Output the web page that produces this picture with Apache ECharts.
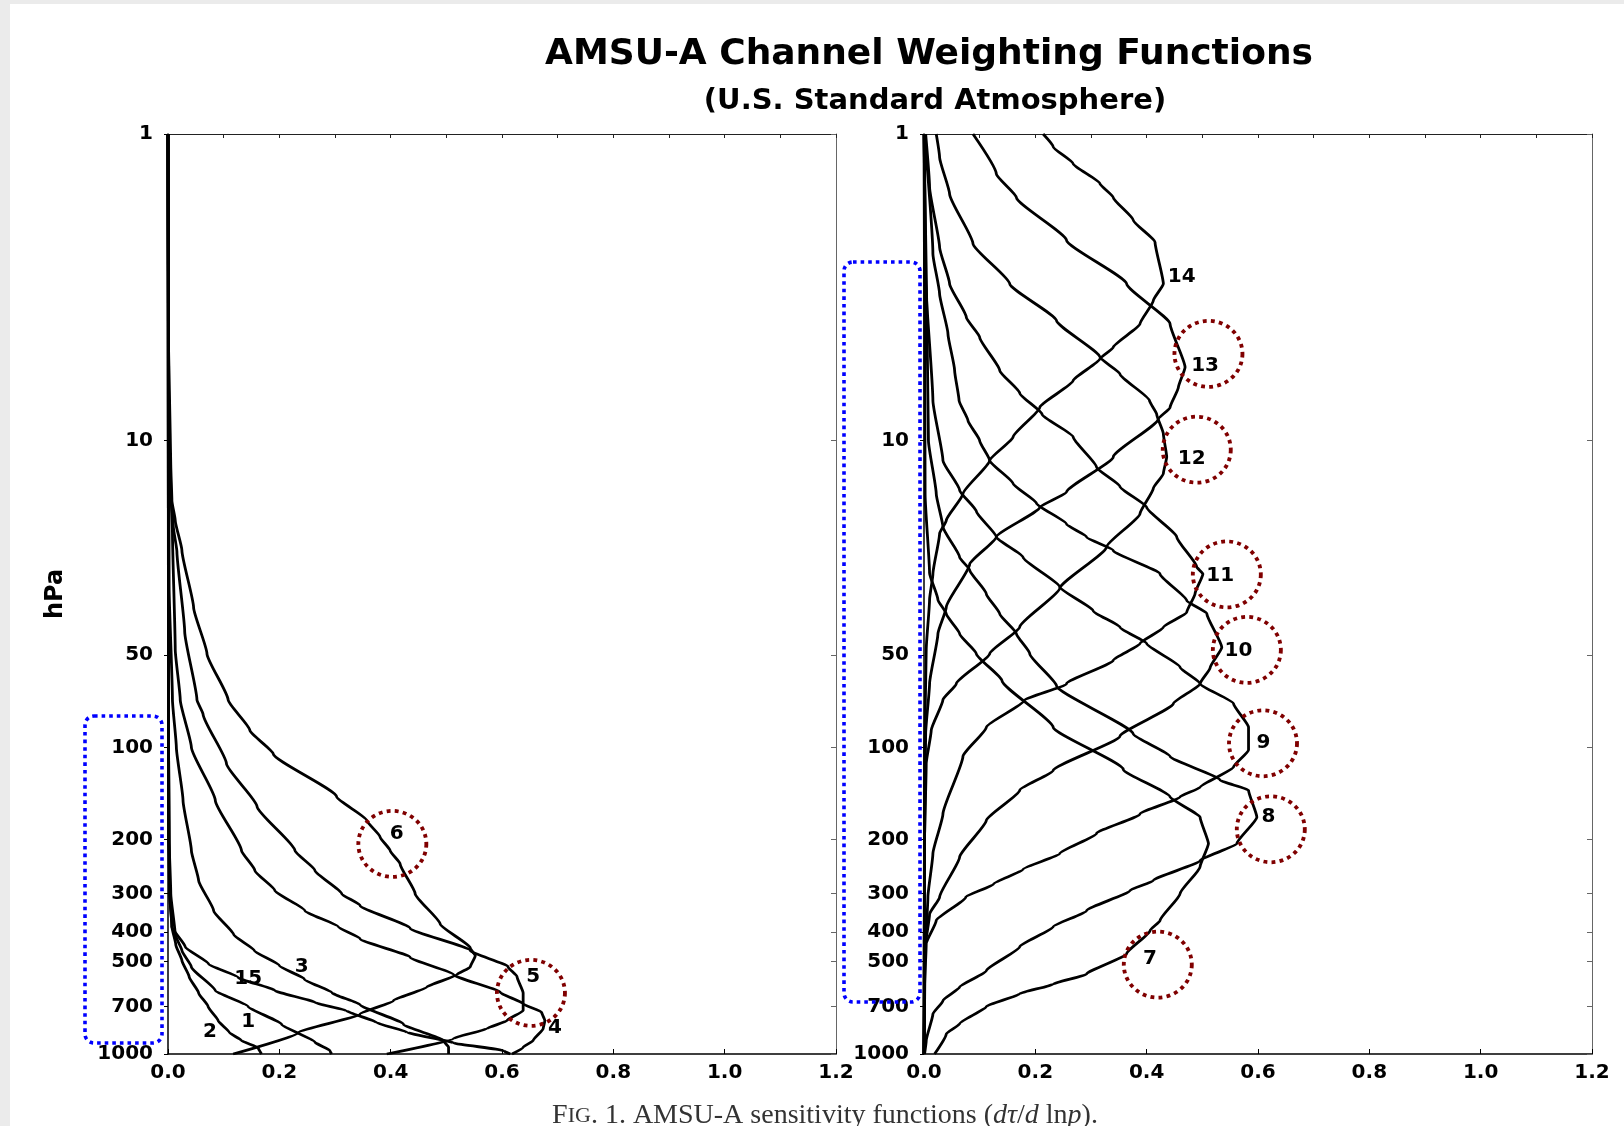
<!DOCTYPE html>
<html>
<head>
<meta charset="utf-8">
<script src="https://cdn.jsdelivr.net/npm/echarts@6.0.0/dist/echarts.min.js"></script>
<style>
html,body{margin:0;padding:0;background:#fff;}
#chart{width:1624px;height:1126px;}
</style>
</head>
<body>
<div id="chart"></div>
<script>
// ---------- DATA: [pressure hPa, dτ/d lnp] ----------
const pressureTicks = [1, 10, 50, 100, 200, 300, 400, 500, 700, 1000];

// Left panel channels
const ch1 = [[1,0],[100,0.001],[200,0.002],[300,0.005],[408,0.013],[460,0.025],[520,0.042],[621,0.085],[700,0.144],[800,0.204],[915,0.264],[975,0.291],[1000,0.294]];
const ch2 = [[1,0],[200,0.001],[300,0.003],[385,0.007],[440,0.014],[496,0.025],[560,0.038],[632,0.055],[700,0.072],[778,0.090],[850,0.110],[904,0.132],[955,0.162],[1000,0.168]];
const ch3 = [[1,0],[30,0.002],[70,0.008],[100,0.015],[149,0.027],[217,0.042],[272,0.055],[341,0.082],[408,0.118],[460,0.155],[515,0.200],[570,0.245],[632,0.295],[690,0.345],[800,0.423],[905,0.495],[950,0.504],[1000,0.504]];
const ch4 = [[1,0],[10,0.001],[20,0.008],[48,0.013],[70,0.022],[100,0.042],[149,0.085],[217,0.132],[252,0.156],[293,0.192],[341,0.246],[385,0.306],[421,0.345],[484,0.435],[551,0.513],[630,0.597],[686,0.638],[730,0.671],[778,0.677],[826,0.674],[904,0.656],[950,0.638],[1000,0.618]];
const ch5 = [[1,0],[8,0.001],[14,0.004],[19,0.0095],[23,0.016],[42,0.030],[70,0.052],[78,0.063],[113,0.105],[156,0.160],[217,0.228],[252,0.264],[300,0.312],[328,0.345],[389,0.435],[460,0.543],[520,0.611],[560,0.627],[632,0.638],[722,0.638],[778,0.609],[826,0.573],[890,0.513],[1000,0.393]];
const ch6 = [[1,0],[5,0.001],[9.5,0.004],[12,0.005],[15.7,0.007],[18.2,0.013],[22.8,0.025],[35,0.046],[49.5,0.070],[70,0.108],[88,0.147],[105,0.189],[145,0.303],[173,0.357],[196,0.381],[217,0.399],[240,0.417],[300,0.444],[377,0.489],[451,0.543],[478,0.552],[520,0.543],[551,0.519],[605,0.465],[670,0.405],[741,0.345],[852,0.234],[1000,0.117]];
const ch15 = [[1,0],[100,0.001],[300,0.003],[385,0.007],[447,0.031],[509,0.073],[563,0.126],[621,0.192],[679,0.264],[722,0.320],[790,0.375],[850,0.430],[920,0.513],[975,0.603],[1000,0.615]];

// Right panel channels
const ch7 = [[1,0],[15,0.002],[27,0.010],[33,0.025],[36.7,0.040],[42.6,0.064],[49.5,0.094],[60.6,0.140],[86,0.232],[118,0.358],[145,0.442],[169,0.496],[206,0.511],[245,0.496],[300,0.460],[367,0.424],[396,0.406],[471,0.364],[549,0.292],[592,0.232],[636,0.172],[700,0.112],[797,0.064],[860,0.040],[1000,0.019]];
const ch8 = [[1,0],[10,0.008],[14.9,0.022],[19.1,0.034],[24,0.064],[26.4,0.082],[31.6,0.112],[36.7,0.136],[42.6,0.166],[49.5,0.190],[63,0.238],[90.5,0.376],[107,0.442],[128,0.532],[138,0.583],[169,0.598],[206,0.562],[234,0.496],[272,0.412],[293,0.370],[341,0.292],[385,0.232],[447,0.172],[535,0.112],[605,0.064],[670,0.034],[741,0.016],[904,0.004],[1000,0.001]];
const ch9 = [[1,0],[3,0.003],[7.4,0.016],[11.6,0.034],[14.5,0.064],[17,0.094],[20.6,0.130],[24,0.178],[30,0.244],[35.9,0.304],[40.6,0.352],[45.9,0.400],[54.8,0.460],[62,0.496],[72,0.556],[86,0.583],[102,0.583],[116,0.556],[135,0.496],[145,0.460],[165,0.388],[191,0.310],[222,0.244],[250,0.178],[279,0.125],[308,0.075],[367,0.022],[437,0.004],[600,0.001],[1000,0]];
const ch10 = [[1,0.001],[2.46,0.016],[3.32,0.028],[4.48,0.043],[5.9,0.055],[7.4,0.063],[8.6,0.079],[10,0.100],[11.6,0.118],[13.8,0.160],[16,0.202],[18.7,0.256],[20.6,0.292],[22.8,0.340],[27.2,0.424],[33.2,0.472],[36.6,0.508],[47.2,0.535],[55,0.514],[62,0.496],[72,0.448],[92,0.352],[119,0.232],[138,0.172],[173,0.112],[228,0.064],[308,0.028],[350,0.010],[450,0.002],[1000,0]];
const ch11 = [[1,0.003],[1.49,0.010],[2.34,0.028],[3.08,0.046],[3.96,0.076],[4.6,0.100],[5.9,0.136],[7.0,0.172],[8.2,0.212],[9.73,0.268],[12.2,0.310],[14.1,0.352],[16.5,0.400],[20.6,0.454],[25.8,0.490],[27.2,0.501],[31.5,0.487],[36.3,0.472],[40.6,0.430],[45.9,0.388],[52,0.340],[62,0.256],[70.4,0.180],[86,0.112],[107,0.070],[165,0.034],[222,0.016],[308,0.007],[500,0.001],[1000,0]];
const ch12 = [[1,0.022],[1.19,0.028],[1.57,0.046],[2.28,0.088],[3.08,0.154],[4.06,0.238],[5.34,0.316],[6.06,0.352],[7.4,0.405],[8.2,0.418],[9.5,0.430],[11.3,0.436],[12.8,0.430],[14.3,0.412],[17.3,0.388],[22.2,0.328],[30.3,0.244],[40.5,0.172],[49.5,0.118],[62,0.058],[70,0.034],[88,0.013],[113,0.004],[200,0.001],[1000,0]];
const ch13 = [[1,0.088],[1.35,0.130],[1.61,0.166],[2.22,0.256],[3.08,0.364],[4.16,0.442],[5.76,0.469],[6.7,0.457],[7.79,0.442],[8.5,0.421],[11.3,0.340],[14.7,0.256],[16.5,0.208],[20.6,0.130],[25.3,0.082],[34.9,0.040],[42.6,0.025],[62,0.010],[90,0.003],[200,0.001],[1000,0]];
const ch14 = [[1,0.214],[1.10,0.232],[1.25,0.268],[1.45,0.316],[1.61,0.340],[1.91,0.376],[2.25,0.415],[3.08,0.430],[3.49,0.412],[4.16,0.388],[4.96,0.340],[5.41,0.316],[6.37,0.268],[7.79,0.208],[9.73,0.160],[11.6,0.118],[14.9,0.070],[18.2,0.040],[20.1,0.028],[27.2,0.016],[33,0.010],[48,0.004],[100,0.001],[1000,0]];

const leftChannels = [ch1, ch2, ch3, ch4, ch5, ch6, ch15];
const rightChannels = [ch7, ch8, ch9, ch10, ch11, ch12, ch13, ch14];

// Channel labels: [text, value, pressure]
const leftLabels = [['6',0.411,192],['5',0.656,559],['4',0.695,822],['3',0.240,521],['15',0.144,569],['1',0.144,788],['2',0.0755,849]];
const rightLabels = [['14',0.463,2.93],['13',0.505,5.71],['12',0.481,11.5],['11',0.532,27.5],['10',0.565,48.3],['9',0.610,96.3],['8',0.619,169],['7',0.406,490]];

// Highlight circles: [value, pressure]
const leftCircles = [[0.403,206.5],[0.652,632]];
const rightCircles = [[0.511,5.21],[0.490,10.7],[0.544,27.3],[0.580,48.1],[0.609,97],[0.623,185],[0.420,511]];

// ---------- CHART ----------
const chart = echarts.init(document.getElementById('chart'), null, {renderer:'canvas'});

const FONT = 'DejaVu Sans';
const labelStyle = {fontFamily: FONT, fontWeight: 'bold', fontSize: 20, color: '#000'};

function xAxisFor(g) {
  return {
    gridIndex: g, type: 'value', min: 0, max: 1.2, interval: 0.2,
    axisLine: {show: true, onZero: false, lineStyle: {color: '#000', width: 1.5}},
    axisTick: {show: true, inside: true, length: 5, lineStyle: {color: '#000', width: 1}},
    axisLabel: Object.assign({formatter: v => v.toFixed(1), margin: 9}, labelStyle),
    splitLine: {show: false}
  };
}
function xTopFor(g) {
  return {
    gridIndex: g, type: 'value', position: 'top', min: 0, max: 1.2, interval: 0.1,
    axisLine: {show: true, onZero: false, lineStyle: {color: '#222', width: 1}},
    axisTick: {show: true, inside: true, length: 4, lineStyle: {color: '#222'}},
    axisLabel: {show: false}, splitLine: {show: false}
  };
}
function yAxisFor(g, withName) {
  const a = {
    gridIndex: g, type: 'log', logBase: 10, min: 1, max: 1000, inverse: true,
    axisLine: {show: true, onZero: false, lineStyle: {color: '#000', width: 1.5}},
    axisTick: {show: true, inside: false, length: 4, customValues: pressureTicks, lineStyle: {color: '#000'}},
    axisLabel: Object.assign({customValues: pressureTicks, margin: 15, formatter: v => String(Math.round(v))}, labelStyle),
    splitLine: {show: false}
  };
  if (withName) {
    a.name = 'hPa';
    a.nameLocation = 'middle';
    a.nameGap = 100;
    a.nameRotate = 90;
    a.nameTextStyle = {fontFamily: FONT, fontWeight: 'bold', fontSize: 24, color: '#000'};
  }
  return a;
}
function yRightFor(g) {
  return {
    gridIndex: g, type: 'log', logBase: 10, min: 1, max: 1000, inverse: true, position: 'right',
    axisLine: {show: true, onZero: false, lineStyle: {color: '#666', width: 1}},
    axisTick: {show: true, inside: true, length: 5, customValues: pressureTicks, lineStyle: {color: '#666'}},
    axisLabel: {show: false}, splitLine: {show: false}
  };
}

const series = [];
function addCurves(list, axisIdx) {
  list.forEach((d) => {
    series.push({
      type: 'line', xAxisIndex: axisIdx, yAxisIndex: axisIdx,
      data: d.map(([p, v]) => [v, p]),
      symbol: 'none', smooth: 0.15, smoothMonotone: 'y',
      lineStyle: {color: '#000', width: 2.8},
      silent: true, z: 3, animation: false
    });
  });
}
addCurves(leftChannels, 0);
addCurves(rightChannels, 1);

function addLabels(list, axisIdx) {
  series.push({
    type: 'scatter', xAxisIndex: axisIdx, yAxisIndex: axisIdx,
    data: list.map(([t, v, p]) => ({value: [v, p], name: t})),
    symbolSize: 0, itemStyle: {color: '#000', opacity: 1},
    label: {show: true, position: 'inside', formatter: q => q.name,
            fontFamily: FONT, fontWeight: 'bold', fontSize: 20, color: '#000', opacity: 1,
            textBorderWidth: 0},
    emphasis: {disabled: true},
    silent: true, z: 6, animation: false
  });
}
addLabels(leftLabels, 0);
addLabels(rightLabels, 1);

function addCircles(list, axisIdx) {
  series.push({
    type: 'scatter', xAxisIndex: axisIdx, yAxisIndex: axisIdx,
    data: list.map(([v, p]) => [v, p]),
    symbol: 'circle', symbolSize: [68, 66],
    itemStyle: {color: 'rgba(0,0,0,0)', borderColor: '#800000', borderWidth: 3.8, borderType: [3.8, 4.2], opacity: 1},
    emphasis: {disabled: true},
    silent: true, z: 7, animation: false
  });
}
addCircles(leftCircles, 0);
addCircles(rightCircles, 1);

const option = {
  backgroundColor: '#ffffff',
  animation: false,
  grid: [
    {left: 168, top: 134, width: 668, height: 920, show: false},
    {left: 924, top: 134, width: 668, height: 920, show: false}
  ],
  xAxis: [xAxisFor(0), xAxisFor(1), xTopFor(0), xTopFor(1)],
  yAxis: [yAxisFor(0, true), yAxisFor(1, false), yRightFor(0), yRightFor(1)],
  series: series,
  graphic: [
    {type: 'rect', shape: {x: 0, y: 0, width: 1624, height: 4}, style: {fill: '#ebebeb'}, silent: true, z: 0},
    {type: 'rect', shape: {x: 0, y: 0, width: 10, height: 1126}, style: {fill: '#ebebeb'}, silent: true, z: 0},
    {type: 'text', x: 929, y: 55, style: {text: 'AMSU-A Channel Weighting Functions', font: 'bold 36px "DejaVu Sans"', fill: '#000', align: 'center', verticalAlign: 'middle'}, z: 10},
    {type: 'text', x: 935, y: 101, style: {text: '(U.S. Standard Atmosphere)', font: 'bold 29px "DejaVu Sans"', fill: '#000', align: 'center', verticalAlign: 'middle'}, z: 10},
    {type: 'rect', shape: {x: 85, y: 716, width: 77, height: 327, r: 9},
     style: {fill: 'none', stroke: '#0000ff', lineWidth: 3.6, lineDash: [3.6, 4]}, silent: true, z: 20},
    {type: 'rect', shape: {x: 844, y: 262, width: 76, height: 740, r: 9},
     style: {fill: 'none', stroke: '#0000ff', lineWidth: 3.6, lineDash: [3.6, 4]}, silent: true, z: 20},
    {type: 'text', x: 825, y: 1116, z: 10,
     style: {
       text: '{a|F}{b|IG}{c|. 1. AMSU-A sensitivity functions (}{i|dτ}{c|/}{i|d}{c| ln}{i|p}{c|).}',
       align: 'center', verticalAlign: 'middle',
       rich: {
         a: {fontFamily: 'Liberation Serif', fontSize: 28, fill: '#333'},
         b: {fontFamily: 'Liberation Serif', fontSize: 22, fill: '#333'},
         c: {fontFamily: 'Liberation Serif', fontSize: 28, fill: '#333'},
         i: {fontFamily: 'Liberation Serif', fontStyle: 'italic', fontSize: 28, fill: '#333'}
       }
     }}
  ]
};
chart.setOption(option);
</script>
</body>
</html>
